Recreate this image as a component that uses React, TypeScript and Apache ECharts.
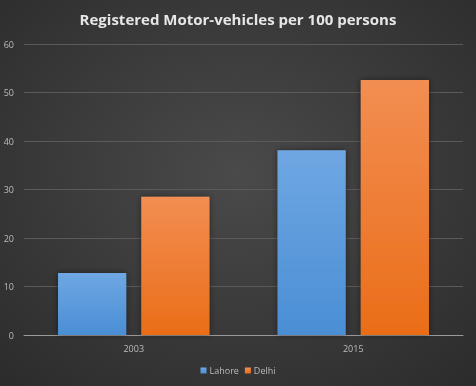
import React, { useEffect, useRef } from "react";
import * as echarts from "echarts";

const categories = ["2003", "2015"];
const lahore = [12.8, 38.1];
const delhi = [28.5, 52.6];
const yTicks = { min: 0, max: 60, interval: 10 };

export default function App() {
  const ref = useRef<HTMLDivElement>(null);
  useEffect(() => {
    const chart = echarts.init(ref.current!, null, { renderer: "svg" });
    const grad = (top: string, bottom: string) =>
      new echarts.graphic.LinearGradient(0, 0, 0, 1, [
        { offset: 0, color: top },
        { offset: 1, color: bottom },
      ]);
    chart.setOption({
      animation: false,
      backgroundColor: new echarts.graphic.RadialGradient(0.5, 0.45, 0.75, [
        { offset: 0, color: "#4a4a4a" },
        { offset: 1, color: "#2b2b2b" },
      ]),
      title: {
        text: "Registered Motor-vehicles per 100 persons",
        left: "center",
        top: 6,
        textStyle: {
          color: "#e6e6e6",
          fontSize: 15,
          fontWeight: "bold",
          fontFamily: "Open Sans",
        },
      },
      grid: { left: 24, right: 13, top: 44, bottom: 51 },
      legend: {
        bottom: 6,
        left: "center",
        itemWidth: 6,
        itemHeight: 6,
        itemGap: 6,
        icon: "rect",
        textStyle: { color: "#bbbbbb", fontSize: 9, fontFamily: "Open Sans", padding: [0, 0, 0, -2] },
        data: ["Lahore", "Delhi"],
      },
      xAxis: {
        type: "category",
        data: categories,
        axisLine: { lineStyle: { color: "#9a9a9a", width: 1 } },
        axisTick: { show: false },
        axisLabel: { color: "#bbbbbb", fontSize: 9, fontFamily: "Open Sans", margin: 9 },
      },
      yAxis: {
        type: "value",
        min: yTicks.min,
        max: yTicks.max,
        interval: yTicks.interval,
        axisLine: { show: false },
        axisTick: { show: false },
        axisLabel: { color: "#bbbbbb", fontSize: 9, fontFamily: "Open Sans", margin: 10 },
        splitLine: { lineStyle: { color: "#5a5a5a", width: 1 } },
      },
      series: [
        {
          name: "Lahore",
          type: "bar",
          data: lahore,
          barGap: "22%",
          barCategoryGap: "31%",
          itemStyle: {
            color: grad("#6fa7e2", "#4a8ed5"),
            shadowColor: "rgba(0,0,0,0.45)",
            shadowBlur: 6,
          },
        },
        {
          name: "Delhi",
          type: "bar",
          data: delhi,
          itemStyle: {
            color: grad("#f28e52", "#ea6d18"),
            shadowColor: "rgba(0,0,0,0.45)",
            shadowBlur: 6,
          },
        },
      ],
    });
    return () => chart.dispose();
  }, []);
  return (
    <div
      ref={ref}
      style={{ position: "fixed", left: 0, top: 0, width: 476, height: 386 }}
    />
  );
}
